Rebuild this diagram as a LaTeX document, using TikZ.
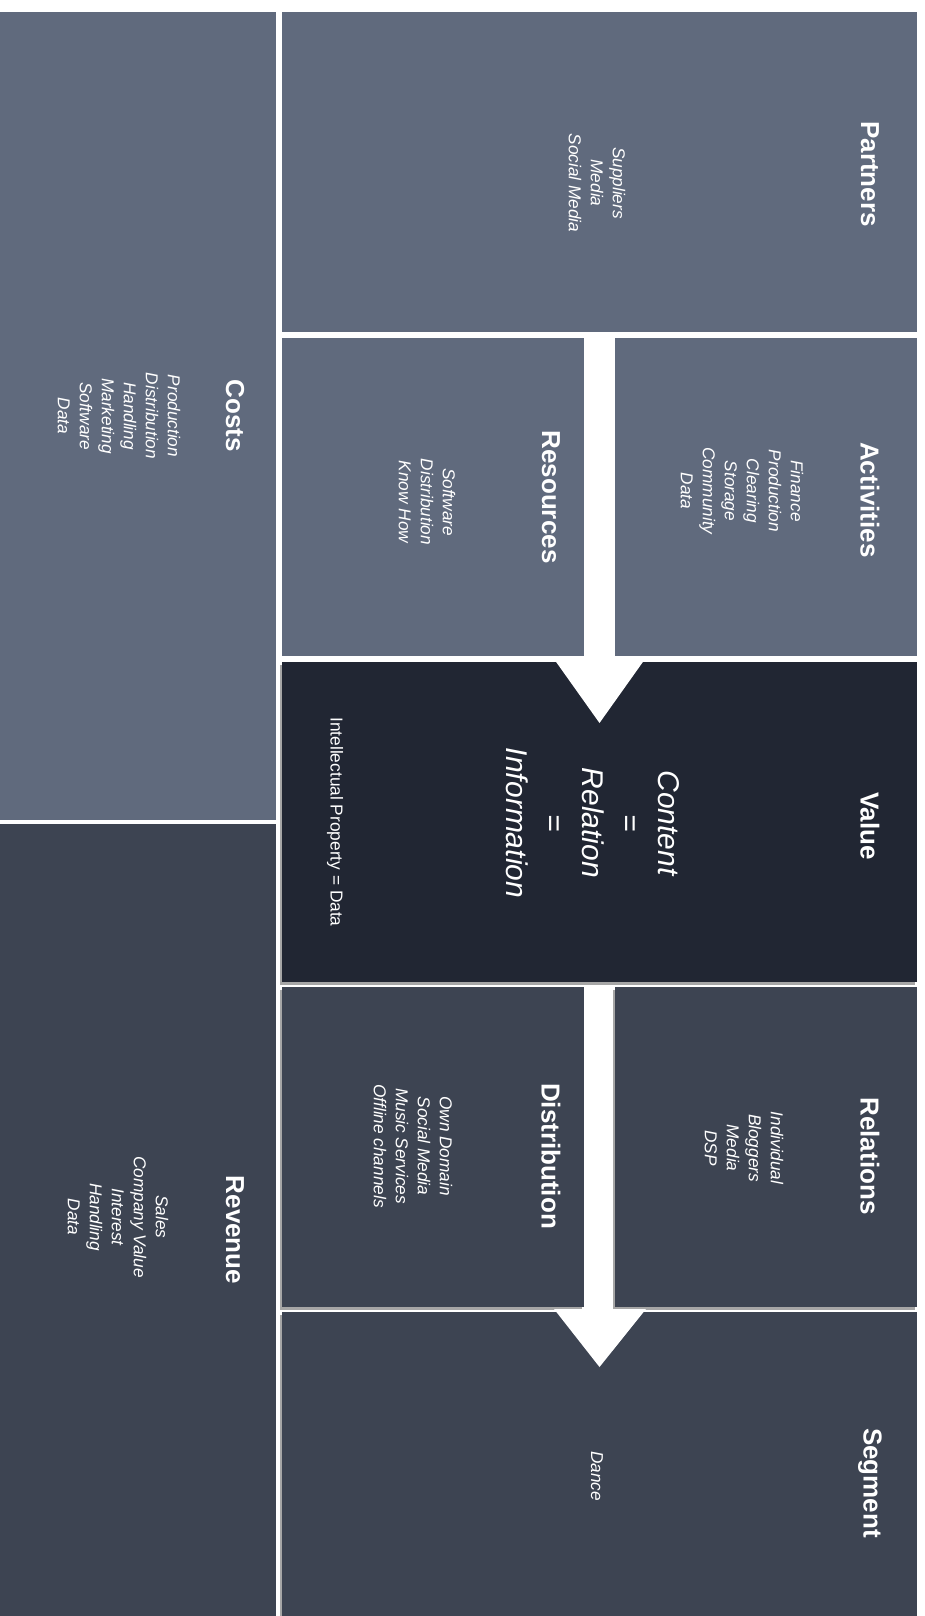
\documentclass[tikz,border=0pt]{standalone}
\usepackage{fontspec}
\setmainfont{Liberation Sans}
\usetikzlibrary{positioning,shadows}

\definecolor{slate}{RGB}{96,106,125}
\definecolor{ink}{RGB}{33,38,51}
\definecolor{steel}{RGB}{61,68,82}

\tikzset{
  box/.style={anchor=north west, inner sep=0pt, outer sep=0pt},
  upper/.style={box, fill=slate},
  lower/.style={box, fill=steel, drop shadow={shadow xshift=-2.5pt, shadow yshift=-2.5pt, fill=black!35, opacity=1}},
  head/.style={text=white, rotate=-90, font=\bfseries\fontsize{26}{30}\selectfont},
  items/.style={text=white, rotate=-90, align=center, font=\itshape\fontsize{17.2}{22}\selectfont},
}

\begin{document}
\begin{tikzpicture}[x=1pt, y=-1pt]
    \useasboundingbox[fill=white] (0,0) rectangle (925,1616);

    \node[upper, minimum width=276pt, minimum height=808pt] (costs) at (0,12) {};
    \node[upper, minimum width=635pt, minimum height=320pt] (partners) at (282,12) {};
    \node[upper, minimum width=302pt, minimum height=318pt] (resources) at (282,338) {};
    \node[upper, minimum width=302pt, minimum height=318pt] (activities) at (615,338) {};
    \node[lower, fill=ink, minimum width=635pt, minimum height=320pt] (value) at (282,662) {};
    \node[lower, minimum width=302pt, minimum height=320pt] (distribution) at (282,987) {};
    \node[lower, minimum width=302pt, minimum height=320pt] (relations) at (615,987) {};
    \node[lower, minimum width=635pt, minimum height=304pt] (segment) at (282,1312) {};
    \node[box, fill=steel, minimum width=276pt, minimum height=792pt] (revenue) at (0,824) {};

    \fill[white] (554,659) -- (645,659) -- (599.5,723) -- cycle;
    \fill[white] (554,1309) -- (646,1309) -- (599.5,1367) -- cycle;

    \node[head] (partnersT) at (870,174) {Partners};
    \node[items] (partnersI) at (597,183) {Suppliers\\Media\\Social Media};

    \node[head] (activitiesT) at (870,500) {Activities};
    \node[items] (activitiesI) at (742,491) {Finance\\Production\\Clearing\\Storage\\Community\\Data};

    \node[head] (resourcesT) at (551,497) {Resources};
    \node[items] (resourcesI) at (427,502) {Software\\Distribution\\Know How};

    \node[head] (valueT) at (870,826) {Value};
    \node[items, font=\itshape\fontsize{30}{38}\selectfont] (valueI) at (593,823) {Content\\=\\Relation\\=\\Information};
    \node[items, font=\fontsize{17.3}{20}\selectfont] (valueIP) at (335,822) {Intellectual Property = Data};

    \node[head] (relationsT) at (870,1156) {Relations};
    \node[items] (relationsI) at (744,1148) {Individual\\Bloggers\\Media\\DSP};

    \node[head] (distributionT) at (551,1156) {Distribution};
    \node[items] (distributionI) at (413,1146) {Own Domain\\Social Media\\Music Services\\Offline channels};

    \node[head] (segmentT) at (870,1483) {Segment};
    \node[items] (segmentI) at (597,1476) {Dance};

    \node[head] (costsT) at (235,416) {Costs};
    \node[items] (costsI) at (119,416) {Production\\Distribution\\Handling\\Marketing\\Software\\Data};

    \node[head] (revenueT) at (235,1230) {Revenue};
    \node[items] (revenueI) at (118,1217) {Sales\\Company Value\\Interest\\Handling\\Data};
\end{tikzpicture}
\end{document}
